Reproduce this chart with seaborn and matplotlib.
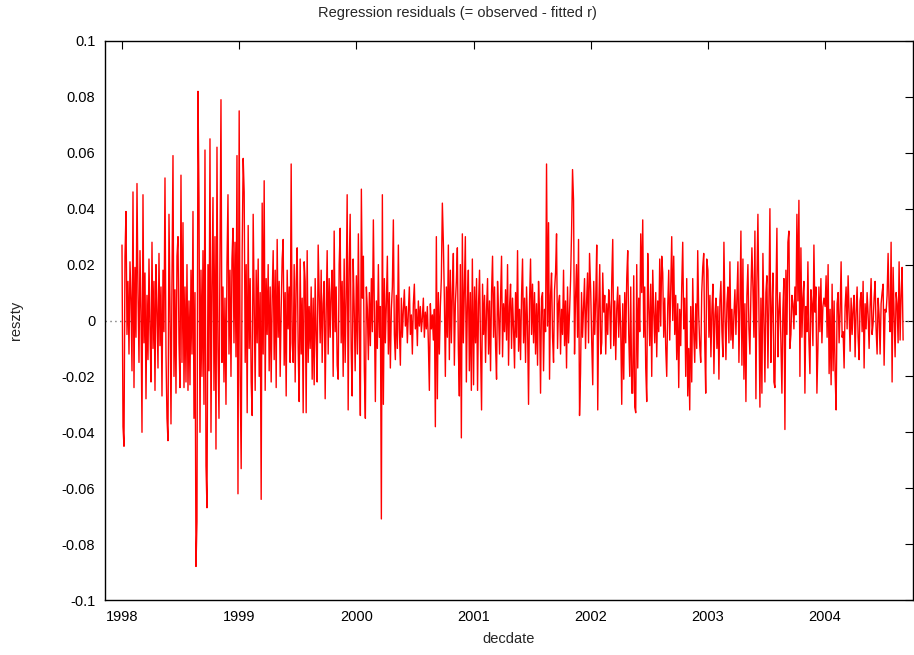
import numpy as np
import pandas as pd
import seaborn as sns
import matplotlib.pyplot as plt

# residuals in units of 0.001, one list per calendar year
res_1998 = [27, -38, -45, 23, 39, -5, 14, -12, 21, 8, -18, 46, -24, 19, -6, 49, 10, -15, 25, 3,
            -40, 45, -8, 17, -28, 9, -14, 22, -3, -22, 28, -10, 14, -25, 20, 4, -17, 24, -9, 12,
            -27, 18, -4, 51, -12, -35, -43, 38, 6, -37, 15, 59, -20, 11, -26, 23, 30, -8, -24, 52,
            -15, 35, -24, 12, -22, 20, -25, 7, -23, 18, -12, 39, -35, 10, -88, -72, 82, 44, -40, 18,
            -20, 25, -30, 61, -52, -67, 20, -18, 65, -40, 12, 44, -25, 30, -46, 62, -10, -35, 22, 79,
            -15, 12, -22, 8, -30, 20, 45, -12, 18, -20, 22, 33, -8, 28, -13, 59, -62]
res_1999 = [75, -20, -53, 25, 58, 46, -15, 20, -33, 34, -10, 15, -22, -34, 38, 5, -25, 18, -8, 22,
            -20, 10, -64, 42, -12, 50, -25, 15, -5, 20, -18, 12, -22, 8, 25, -14, 18, -24, 29, -6,
            14, -20, 4, 22, 29, -16, 10, -27, 18, -3, 12, -15, 56, -8, -15, 20, -22, 14, 26, -10,
            -29, 22, -12, 8, -33, 21, 14, -33, 25, -15, 5, -10, 12, -21, 8, -23, 15, -5, -22, 27,
            10, -8, 18, -15, 6, 14, -28, 3, 25, -12, 15, -6, 10, 18, -20, 32, -4, 12, -16, -21,
            20, 33, -8, 14, -20, 22, -15, 8, 45, -32, 18, 38, -10, -27, 22, 5, -18]
res_2000 = [16, -12, 31, -5, -34, 47, 8, 23, -18, -35, 12, 4, -14, 10, -9, 15, -4, 36, 2, -29,
            7, -10, 20, -6, 5, -71, 45, -30, 15, -8, 6, 23, -12, 10, -17, 4, 12, 36, -5, -14,
            9, -10, 27, -3, -16, 8, -6, 4, 11, -2, 5, -8, 3, 12, -5, 2, -12, 6, 13, -3,
            4, -9, 7, -2, 5, -4, 1, 8, -6, 3, -3, 5, -8, -25, 6, -3, 2, -7, 4, -38,
            30, -28, 10, -12, 5, 15, 42, 28, 8, -20, 12, -6, 27, -14, 18, -8, 10, 24, -16, 6,
            14, 26, -10, -27, 20, -42, 31, -8, 12, 30, -22, 5, 18, -18, 10, -25, 22]
res_2001 = [-23, 12, -8, 15, -25, 6, 18, -10, -32, 13, -5, 9, -15, 4, 15, -12, 7, -18, 10, 23,
            -6, 12, -9, -21, 14, 3, -12, 8, 23, -13, 6, -4, 11, -7, 20, -16, 5, 13, -10, 8,
            -3, -17, 10, -6, 25, -11, 4, -14, 9, 22, -8, 8, -15, 12, -2, -30, 7, 22, -5, 13,
            -8, 10, -12, 6, -16, 14, 3, -26, 8, 10, -18, 4, -4, 56, -2, 35, -21, 9, 17, -6,
            -15, 11, 17, 31, -10, 6, 9, -12, 4, -5, 18, -9, 7, -17, 12, -8, 3, 14, 31, 54,
            43, -12, 8, 20, -6, 29, -34, -19, 10, -6, 5, 15, -10, 6, 17, -8, 24]
res_2002 = [10, -8, -23, 14, -5, 8, 27, -32, 4, 20, -12, -8, 17, 3, 9, -12, 6, -5, 11, 5,
            -10, 14, 29, -9, 7, -14, 4, 12, -6, 9, -3, -30, 6, -21, 10, -8, 15, 25, -5, -20,
            12, -26, -26, 16, -31, -33, 20, -17, 8, -4, 31, 10, 36, -6, 12, -17, -29, 24, 5, -9,
            13, -20, 18, 3, -8, 10, -13, 7, -4, 22, -2, 23, 17, -6, 8, -10, -20, 5, 18, -7,
            12, 30, 0, 23, -5, 9, -14, 6, -24, 4, -9, 12, 28, -3, 8, -20, 15, -27, -10, -32,
            5, -22, 15, -4, -15, 6, -10, 25, 2, -9, -15, 10, 19, 24, -8, -26, 22]
res_2003 = [18, -6, 9, -13, 4, 13, -19, 2, 8, -10, 5, -21, 7, 14, -4, -13, 28, 3, -14, 6,
            12, -8, 21, -7, 4, -10, 2, 11, -5, 8, 21, -15, 5, 32, -16, 22, -21, 6, -29, 9,
            20, -3, -12, 10, 26, 12, -6, 32, -28, 14, 38, 5, -31, 8, -26, 24, 2, -22, 10, 16,
            -17, 6, 40, -15, 4, 17, -22, -24, 9, 33, -13, 3, 10, -8, -26, 4, 15, -39, 18, -5,
            28, 32, -10, -5, 9, 6, -3, 12, 2, 38, 7, 43, -20, 26, -6, 8, 14, -26, 5, -4,
            21, -7, -19, 11, 6, -9, 27, 3, 12, -26, -10, 12, -4, 15, -8, 5, 8]
res_2004 = [5, 16, -6, 20, -19, 4, -23, 13, -18, 7, -19, -32, 6, 10, -8, 3, 21, -6, -4, -17,
            5, 12, -3, 16, 2, -11, 8, -5, 4, 9, -13, 3, 12, -6, -14, 7, 10, -4, 14, -17,
            6, -3, 10, 2, -10, 5, 15, -5, -1, 8, 14, -3, -12, 8, 2, -12, 6, 10, 13, -16,
            4, 3, 9, 24, 5, -4, 28, -22, 19, 2, -13, 10, 6, -8, 21, -7, 9, 19, -7]

years = [1998, 1999, 2000, 2001, 2002, 2003, 2004]
series = [res_1998, res_1999, res_2000, res_2001, res_2002, res_2003, res_2004]
samples_per_year = 117.2


def build_frame():
    parts = []
    for year, vals in zip(years, series):
        n = len(vals)
        parts.append(pd.DataFrame({
            'decdate': year + np.arange(n) / samples_per_year,
            'reszty': np.array(vals) / 1000.0,
        }))
    return pd.concat(parts, ignore_index=True)


def main():
    df = build_frame()
    sns.set_style("white")
    plt.rcParams['font.family'] = ['Liberation Sans', 'DejaVu Sans']

    fig = plt.figure(figsize=(9.14, 6.55), dpi=100)
    ax = fig.add_axes([105 / 914, 55 / 655, 808 / 914, 559 / 655])

    ax.axhline(0, color='#777777', lw=1.0, ls=(0, (1, 2.5)), zorder=1)
    sns.lineplot(data=df, x='decdate', y='reszty', ax=ax, color='#ff0000',
                 lw=1.0, estimator=None, sort=False, zorder=2)

    ax.set_xlim(1997.855, 2004.75)
    ax.set_ylim(-0.1, 0.1)
    ax.set_xticks(years)
    ax.set_xticklabels([str(y) for y in years])
    yt = np.round(np.arange(-0.1, 0.1001, 0.02), 2)
    ax.set_yticks(yt)
    ax.set_yticklabels(['0' if abs(v) < 1e-9 else f'{v:g}' for v in yt])

    ax.tick_params(direction='in', length=6, width=0.8, top=True, right=True,
                   labelsize=10.5, colors='black', pad=7)
    for s in ax.spines.values():
        s.set_color('black')
        s.set_linewidth(1.0)
    ax.grid(False)

    ax.set_xlabel('decdate', fontsize=10.5, labelpad=6)
    ax.set_ylabel('reszty', fontsize=10.5, labelpad=28)
    fig.text(0.5, 1 - 13 / 655, 'Regression residuals (= observed - fitted r)',
             ha='center', va='center', fontsize=10.5)

    fig.savefig('out.png', dpi=100)
    plt.close(fig)


if __name__ == '__main__':
    main()
